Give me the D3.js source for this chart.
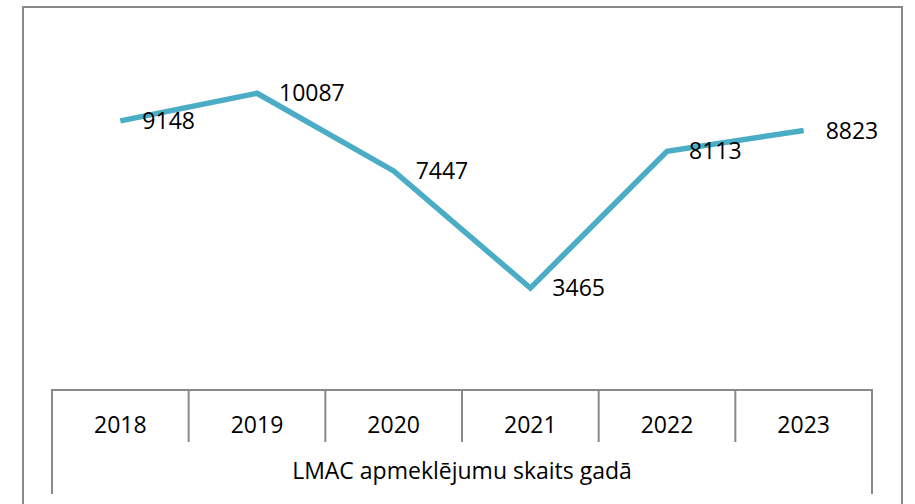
<!DOCTYPE html>
<html><head><meta charset="utf-8">
<script src="https://cdn.jsdelivr.net/npm/d3@7"></script>
<style>body{margin:0;background:#fff}svg{display:block}</style>
</head><body>
<svg id="c" width="915" height="504"></svg>
<script>
const categories = ["2018","2019","2020","2021","2022","2023"];
const values = [9148, 10087, 7447, 3465, 8113, 8823];
const axisTitle = "LMAC apmeklējumu skaits gadā";

const svg = d3.select("#c");
const font = "'Open Sans', 'Liberation Sans', Arial, sans-serif";
const fs = 23;
const grey = "#898989";
const left = 52, right = 872, plotTop = 37, plotBottom = 390;

svg.append("rect").attr("x",23).attr("y",7).attr("width",879).attr("height",520)
  .attr("fill","#fff").attr("stroke",grey).attr("stroke-width",2);

const x = d3.scaleBand().domain(categories).range([left,right]);
const y = d3.scaleLinear().domain([0,12000]).range([plotBottom,plotTop]);

// table-style category axis
const g = svg.append("g").attr("stroke",grey).attr("stroke-width",2).attr("fill","none");
g.append("line").attr("x1",left).attr("x2",right).attr("y1",plotBottom).attr("y2",plotBottom);
g.append("line").attr("x1",left).attr("x2",left).attr("y1",plotBottom-1).attr("y2",494);
g.append("line").attr("x1",right).attr("x2",right).attr("y1",plotBottom-1).attr("y2",494);
categories.slice(1).forEach(c=>{
  g.append("line").attr("x1",x(c)).attr("x2",x(c)).attr("y1",plotBottom).attr("y2",442);
});
svg.selectAll("text.cat").data(categories).join("text").attr("class","cat")
  .attr("x",d=>x(d)+x.bandwidth()/2).attr("y",425).attr("dy","0.35em")
  .attr("text-anchor","middle").attr("font-family",font).attr("font-size",fs).attr("fill","#000")
  .text(d=>d);
svg.append("text").attr("x",(left+right)/2).attr("y",471).attr("dy","0.35em")
  .attr("text-anchor","middle").attr("font-family",font).attr("font-size",fs).attr("fill","#000")
  .text(axisTitle);

const pts = categories.map((c,i)=>[x(c)+x.bandwidth()/2, y(values[i])]);
svg.append("path").attr("d",d3.line()(pts)).attr("fill","none")
  .attr("stroke","#4bacc6").attr("stroke-width",5.5).attr("stroke-linejoin","miter");

svg.selectAll("text.lbl").data(values).join("text").attr("class","lbl")
  .attr("x",(d,i)=>pts[i][0]+22).attr("y",(d,i)=>pts[i][1]).attr("dy","0.35em")
  .attr("font-family",font).attr("font-size",fs).attr("fill","#000")
  .text(d=>d);
</script>
</body></html>
